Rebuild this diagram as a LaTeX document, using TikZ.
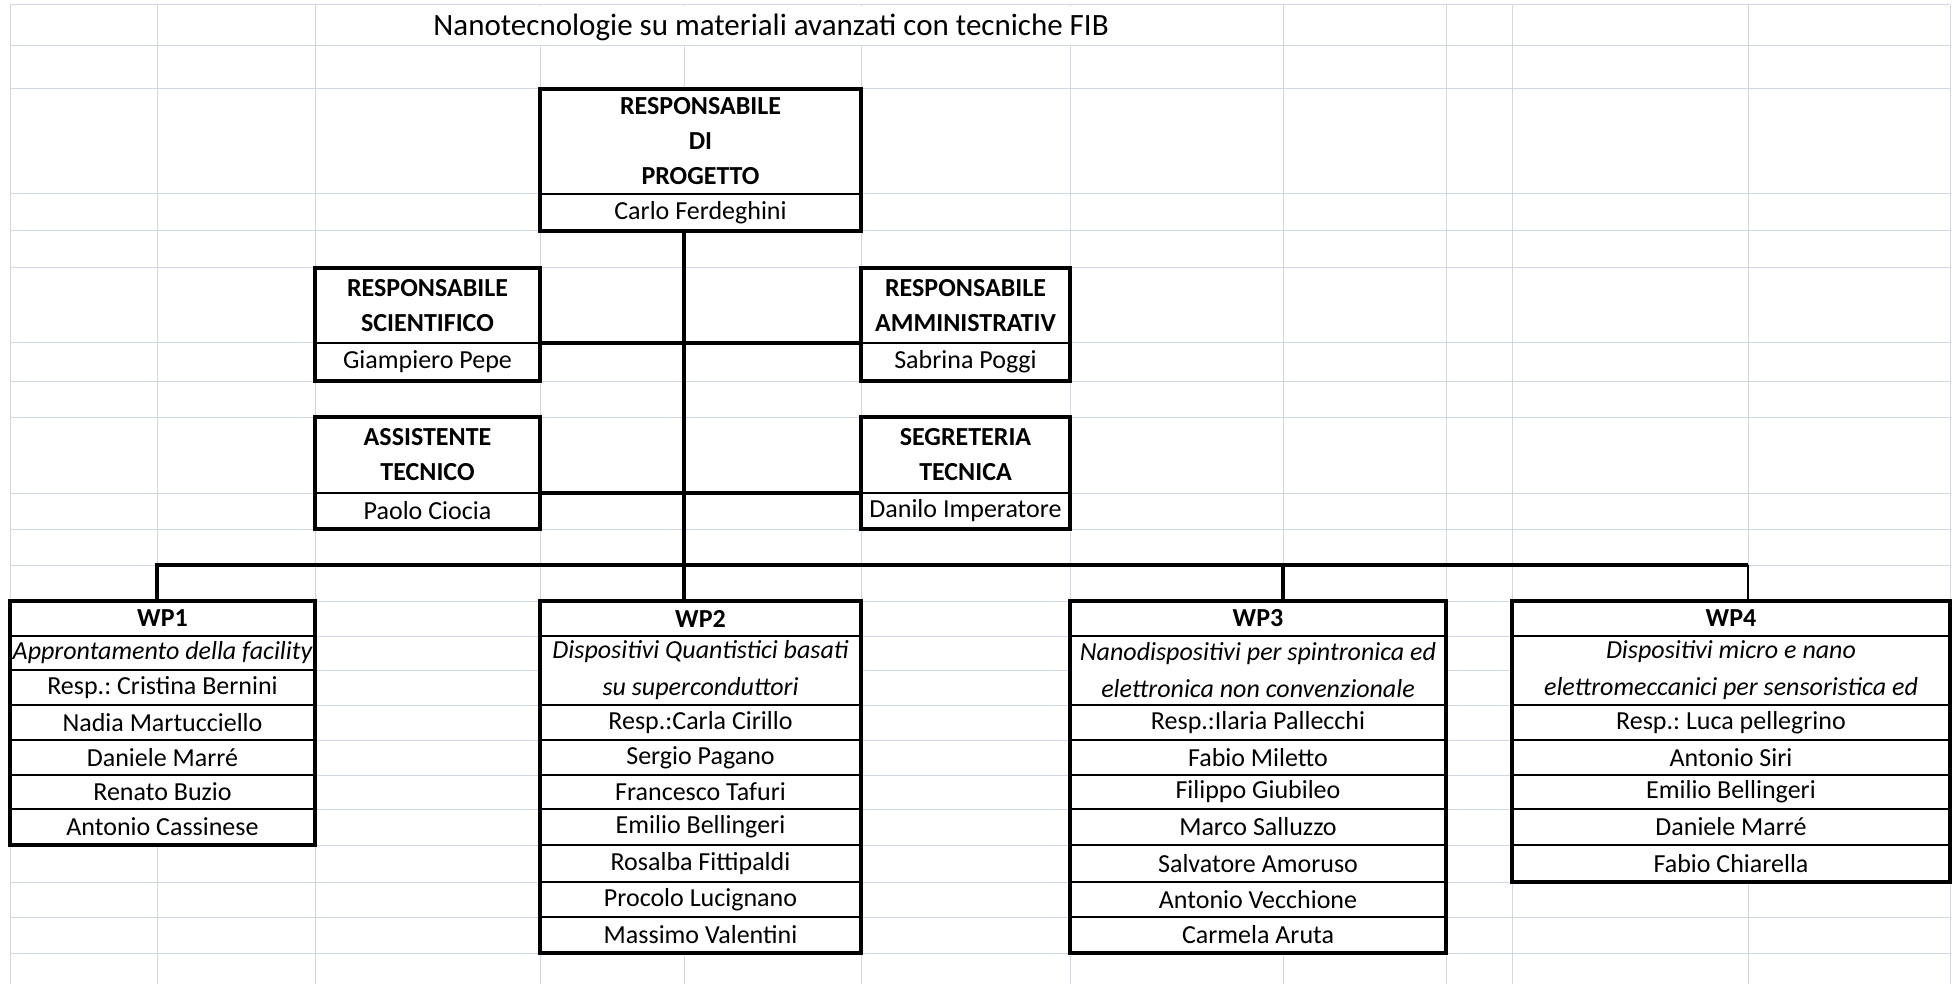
\documentclass[tikz,border=0pt]{standalone}
\usepackage{fontspec}
\setmainfont{Carlito}
\frenchspacing
\definecolor{gridgray}{RGB}{208,215,229}
\tikzset{
  span/.style n args={4}{at={({(#1+#3)/2},{(#2+#4)/2})},
      minimum width={(#3-#1)*0.5pt}, minimum height={(#4-#2)*0.5pt}},
  cell/.style={draw, line width=0.8pt, fill=white, inner sep=0pt, outer sep=0pt, align=center, font=\fontsize{13}{17.5}\selectfont},
  head/.style={cell, font=\fontsize{13}{17.5}\selectfont\bfseries},
  topic/.style={cell, font=\fontsize{13}{18.5}\selectfont\itshape},
  frame/.style={line width=1.7pt},
  link/.style={line width=1.6pt},
  thinlink/.style={line width=0.7pt},
  gridline/.style={draw=gridgray, line width=0.5pt},
}

\begin{document}
\begin{tikzpicture}[x=0.5pt, y=-0.5pt]
    \useasboundingbox (0,0) rectangle (1960,984);

    % Sheet grid
    \foreach \x in {10,157,315,540,684,861,1070,1283,1446,1512,1748,1950}
        \draw[gridline] (\x,5) -- (\x,984);
    \foreach \y in {5,46,89,194,231,268,343,381,417,493,529,565,601,636,670,705,740,775,809,845,882,917,953}
        \draw[gridline] (10,\y) -- (1950,\y);

    % Title (merged cells)
    \fill[white] (316,6) rectangle (1282,45);
    \node[anchor=base west, inner sep=0pt, font=\fontsize{15.5}{18}\selectfont] (title) at (433,36) {Nanotecnologie su materiali avanzati con tecniche FIB};

    % Top boxes
    \node[head, span={540}{89}{861}{194}] (proghead) {RESPONSABILE\\DI\\PROGETTO};
    \node[cell, span={540}{194}{861}{231}] (progname) {Carlo Ferdeghini};
    \draw[frame] (proghead.north west) rectangle (progname.south east);

    \node[head, span={315}{268}{540}{343}] (scihead) {RESPONSABILE\\SCIENTIFICO};
    \node[cell, span={315}{343}{540}{381}] (sciname) {Giampiero Pepe};
    \draw[frame] (scihead.north west) rectangle (sciname.south east);

    \node[head, span={861}{268}{1070}{343}] (ammhead) {RESPONSABILE\\AMMINISTRATIV};
    \node[cell, span={861}{343}{1070}{381}] (ammname) {Sabrina Poggi};
    \draw[frame] (ammhead.north west) rectangle (ammname.south east);

    \node[head, span={315}{417}{540}{493}] (asshead) {ASSISTENTE\\TECNICO};
    \node[cell, span={315}{493}{540}{529}] (assname) {Paolo Ciocia};
    \draw[frame] (asshead.north west) rectangle (assname.south east);

    \node[head, span={861}{417}{1070}{493}] (seghead) {SEGRETERIA\\TECNICA};
    \node[cell, span={861}{493}{1070}{529}] (segname) {Danilo Imperatore};
    \draw[frame] (seghead.north west) rectangle (segname.south east);

    % Work packages
    \node[head, span={10}{601}{315}{636}] (wp1head) {WP1};
    \node[topic, span={10}{636}{315}{670}] (wp1topic) {Approntamento della facility};
    \foreach \a/\b/\t [count=\i] in {670/705/Resp.: Cristina Bernini, 705/740/Nadia Martucciello,
        740/775/Daniele Marré, 775/809/Renato Buzio, 809/845/Antonio Cassinese}
        \node[cell, span={10}{\a}{315}{\b}] (wp1r\i) {\t};
    \draw[frame] (wp1head.north west) rectangle (wp1r5.south east);

    \node[head, span={540}{601}{861}{636}] (wp2head) {WP2};
    \node[topic, span={540}{636}{861}{705}] (wp2topic) {Dispositivi Quantistici basati\\su superconduttori};
    \foreach \a/\b/\t [count=\i] in {705/740/Resp.:Carla Cirillo, 740/775/Sergio Pagano,
        775/809/Francesco Tafuri, 809/845/Emilio Bellingeri, 845/882/Rosalba Fittipaldi,
        882/917/Procolo Lucignano, 917/953/Massimo Valentini}
        \node[cell, span={540}{\a}{861}{\b}] (wp2r\i) {\t};
    \draw[frame] (wp2head.north west) rectangle (wp2r7.south east);

    \node[head, span={1070}{601}{1446}{636}] (wp3head) {WP3};
    \node[topic, span={1070}{636}{1446}{705}] (wp3topic) {Nanodispositivi per spintronica ed\\elettronica non convenzionale};
    \foreach \a/\b/\t [count=\i] in {705/740/Resp.:Ilaria Pallecchi, 740/775/Fabio Miletto,
        775/809/Filippo Giubileo, 809/845/Marco Salluzzo, 845/882/Salvatore Amoruso,
        882/917/Antonio Vecchione, 917/953/Carmela Aruta}
        \node[cell, span={1070}{\a}{1446}{\b}] (wp3r\i) {\t};
    \draw[frame] (wp3head.north west) rectangle (wp3r7.south east);

    \node[head, span={1512}{601}{1950}{636}] (wp4head) {WP4};
    \node[topic, span={1512}{636}{1950}{705}] (wp4topic) {Dispositivi micro e nano\\elettromeccanici per sensoristica ed};
    \foreach \a/\b/\t [count=\i] in {705/740/Resp.: Luca pellegrino, 740/775/Antonio Siri,
        775/809/Emilio Bellingeri, 809/845/Daniele Marré, 845/882/Fabio Chiarella}
        \node[cell, span={1512}{\a}{1950}{\b}] (wp4r\i) {\t};
    \draw[frame] (wp4head.north west) rectangle (wp4r5.south east);

    % Connectors
    \coordinate (hub) at (684,565);
    \coordinate (bus1) at (157,565);
    \coordinate (bus3) at (1283,565);
    \coordinate (bus4) at (1748,565);
    \draw[link] (hub |- progname.south) -- (hub);
    \draw[link] (scihead.south east) -- (ammhead.south west);
    \draw[link] (asshead.south east) -- (seghead.south west);
    \draw[link] (bus1 |- wp1head.north) -- (bus1) -- (bus4);
    \draw[link] (hub) -- (hub |- wp2head.north);
    \draw[link] (bus3) -- (bus3 |- wp3head.north);
    \draw[thinlink] (bus4) -- (bus4 |- wp4head.north);
\end{tikzpicture}
\end{document}
